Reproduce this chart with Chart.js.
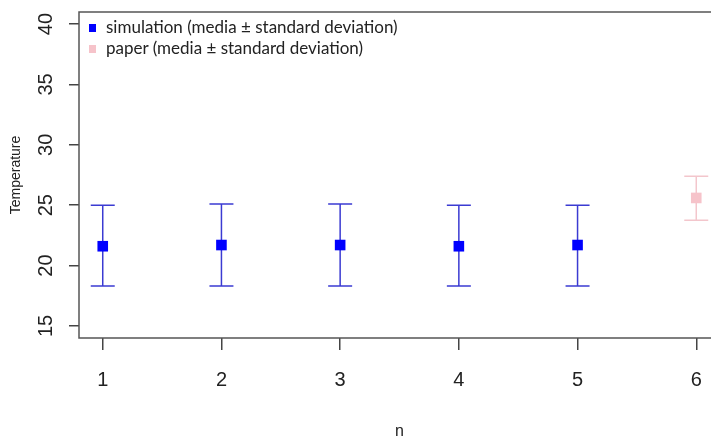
<!DOCTYPE html>
<html>
<head>
<meta charset="utf-8">
<script src="https://cdn.jsdelivr.net/npm/chart.js@4/dist/chart.umd.min.js"></script>
<style>
  html, body { margin: 0; padding: 0; background: #fff; overflow: hidden; }
  #wrap { position: relative; width: 740px; height: 450px; }
  #leyenda { position: absolute; left: 89px; top: 16px; font-family: Lato, "Open Sans", sans-serif; font-size: 17px; color: #222; }
  #leyenda div { height: 21px; line-height: 21px; white-space: nowrap; }
  #leyenda span.m { display: inline-block; width: 7px; height: 8px; margin-right: 10px; vertical-align: middle; position: relative; top: -1px; }
</style>
</head>
<body>
<div id="wrap">
  <canvas id="grafico"></canvas>
  <div id="leyenda">
    <div><span class="m" style="background:#0000ff"></span>simulation (media ± standard deviation)</div>
    <div><span class="m" style="background:#f6c3ca"></span>paper (media ± standard deviation)</div>
  </div>
</div>
<script>
// Datos
const simX = [1, 2, 3, 4, 5];
const simMedia = [21.6, 21.7, 21.7, 21.6, 21.7];
const simSup = [25.0, 25.1, 25.1, 25.0, 25.0];
const simInf = [18.3, 18.3, 18.3, 18.3, 18.3];

const paperX = [6];
const paperMedia = [25.6];
const paperSup = [27.4];
const paperInf = [23.75];

const ticksX = [1, 2, 3, 4, 5, 6];
const ticksY = [15, 20, 25, 30, 35, 40];

// Plugin para las barras de error, la caja del grafico y las etiquetas verticales del eje Y
const barrasError = {
    id: "barrasError",
    beforeDatasetsDraw(chart) {
        const ctx = chart.ctx;
        const sx = chart.scales.x;
        const sy = chart.scales.y;
        chart.data.datasets.forEach(ds => {
            ctx.save();
            ctx.strokeStyle = ds.colorError;
            ctx.lineWidth = 1.5;
            ds.data.forEach((p, i) => {
                const x = sx.getPixelForValue(p.x);
                const y1 = sy.getPixelForValue(ds.inf[i]);
                const y2 = sy.getPixelForValue(ds.sup[i]);
                ctx.beginPath();
                ctx.moveTo(x, y1); ctx.lineTo(x, y2);
                ctx.moveTo(x - 12, y1); ctx.lineTo(x + 12, y1);
                ctx.moveTo(x - 12, y2); ctx.lineTo(x + 12, y2);
                ctx.stroke();
            });
            ctx.restore();
        });
    },
    afterDraw(chart) {
        const a = chart.chartArea;
        const ctx = chart.ctx;
        const sy = chart.scales.y;
        ctx.save();
        ctx.strokeStyle = "#555";
        ctx.lineWidth = 1.5;
        ctx.strokeRect(a.left, a.top, a.right - a.left, a.bottom - a.top);
        // etiquetas del eje Y giradas como en R
        ctx.fillStyle = "#222";
        ctx.font = "20px 'Liberation Sans'";
        ctx.textAlign = "center";
        ctx.textBaseline = "middle";
        ticksY.forEach(v => {
            ctx.save();
            ctx.translate(a.left - 33, sy.getPixelForValue(v));
            ctx.rotate(-Math.PI / 2);
            ctx.fillText(String(v), 0, 0);
            ctx.restore();
        });
        ctx.restore();
    }
};

const ctx = document.getElementById("grafico").getContext("2d");
const grafico = new Chart(ctx, {
    type: "scatter",
    data: {
        datasets: [
            {
                label: "simulation (media ± standard deviation)",
                data: simX.map((x, i) => ({ x: x, y: simMedia[i] })),
                sup: simSup,
                inf: simInf,
                colorError: "#3b3bd2",
                backgroundColor: "#0000ff",
                borderWidth: 0,
                pointStyle: "rect",
                pointRadius: 7.5
            },
            {
                label: "paper (media ± standard deviation)",
                data: paperX.map((x, i) => ({ x: x, y: paperMedia[i] })),
                sup: paperSup,
                inf: paperInf,
                colorError: "#f3c6cc",
                backgroundColor: "#f6c3ca",
                borderWidth: 0,
                pointStyle: "rect",
                pointRadius: 7.5
            }
        ]
    },
    options: {
        responsive: true,
        maintainAspectRatio: false,
        animation: false,
        layout: { padding: { top: 12, right: 20, left: 0, bottom: 0 } },
        plugins: {
            legend: { display: false },
            tooltip: { enabled: false }
        },
        scales: {
            x: {
                type: "linear",
                min: 0.8,
                max: 6.2,
                afterBuildTicks: s => { s.ticks = ticksX.map(v => ({ value: v })); },
                afterFit: s => { s.height = 112; },
                border: { display: false },
                grid: { drawOnChartArea: false, drawTicks: true, tickLength: 12, color: "#444", lineWidth: 1.5 },
                ticks: { color: "#222", padding: 18, font: { family: "Liberation Sans", size: 20 } },
                title: { display: true, text: "n", color: "#222", padding: { top: 0, bottom: 9 }, font: { family: "Liberation Sans", size: 16 } }
            },
            y: {
                min: 14,
                max: 41,
                afterBuildTicks: s => { s.ticks = ticksY.map(v => ({ value: v })); },
                afterFit: s => { s.width = 79; },
                border: { display: false },
                grid: { drawOnChartArea: false, drawTicks: true, tickLength: 10, color: "#444", lineWidth: 1.5 },
                ticks: { display: false },
                title: { display: true, text: "Temperature", color: "#222", padding: { top: 8, bottom: 0 }, font: { family: "Liberation Sans", size: 14 } }
            }
        }
    },
    plugins: [barrasError]
});
</script>
</body>
</html>
